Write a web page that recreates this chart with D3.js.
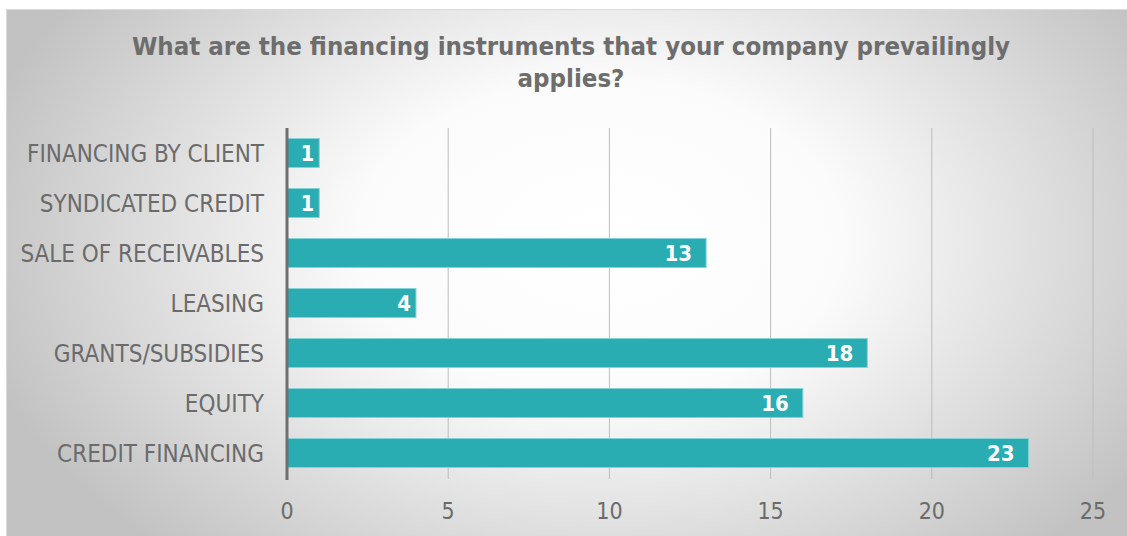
<!DOCTYPE html>
<html>
<head>
<meta charset="utf-8">
<script src="https://cdn.jsdelivr.net/npm/d3@7"></script>
<style>
  html, body { margin: 0; padding: 0; background: #ffffff; }
  svg { display: block; }
</style>
</head>
<body>
<svg id="chart" width="1127" height="536"></svg>
<script>
// Survey answers: financing instruments used
const categories = [
  "FINANCING BY CLIENT",
  "SYNDICATED CREDIT",
  "SALE OF RECEIVABLES",
  "LEASING",
  "GRANTS/SUBSIDIES",
  "EQUITY",
  "CREDIT FINANCING"
];
const counts = [1, 1, 13, 4, 18, 16, 23];
const xTicks = [0, 5, 10, 15, 20, 25];
const titleLines = [
  "What are the financing instruments that your company prevailingly",
  "applies?"
];

const svg = d3.select("#chart");
const W = 1127, H = 536;
const labelFont = "'DejaVu Sans Condensed', 'DejaVu Sans', sans-serif";

// Chart-area background: white glow fading to grey at the edges
const defs = svg.append("defs");
const grad = defs.append("radialGradient")
  .attr("id", "bg")
  .attr("gradientUnits", "userSpaceOnUse")
  .attr("cx", 600).attr("cy", 240).attr("r", 640)
  .attr("gradientTransform", "translate(600,240) scale(1,0.66) translate(-600,-240)");
grad.append("stop").attr("offset", "0").attr("stop-color", "#ffffff");
grad.append("stop").attr("offset", "0.38").attr("stop-color", "#fbfbfb");
grad.append("stop").attr("offset", "1").attr("stop-color", "#c2c2c2");

svg.append("rect")
  .attr("x", 6.5).attr("y", 9.5)
  .attr("width", W - 6).attr("height", H - 9)
  .attr("fill", "url(#bg)")
  .attr("stroke", "#dadada");

const x = d3.scaleLinear().domain([0, 25]).range([287, 1093]);
const y = d3.scaleBand().domain(categories).range([128, 478]).paddingInner(0.42).paddingOuter(0.21);

// Vertical gridlines
svg.append("g")
  .selectAll("line")
  .data(xTicks.filter(t => t > 0))
  .join("line")
  .attr("x1", d => x(d)).attr("x2", d => x(d))
  .attr("y1", 128).attr("y2", 479)
  .attr("stroke", "#bdbdbd").attr("stroke-width", 1);

// Bars
svg.append("g")
  .selectAll("rect")
  .data(categories)
  .join("rect")
  .attr("x", x(0))
  .attr("y", d => y(d))
  .attr("width", (d, i) => x(counts[i]) - x(0))
  .attr("height", y.bandwidth())
  .attr("fill", "#29adb3")
  .attr("stroke", "#86d3d6")
  .attr("stroke-width", 1);

// Value labels inside bar ends
svg.append("g")
  .selectAll("text")
  .data(categories)
  .join("text")
  .attr("x", (d, i) => x(counts[i]) - (counts[i] < 10 ? 5 : 14))
  .attr("y", d => y(d) + y.bandwidth() / 2)
  .attr("dy", "0.37em")
  .attr("text-anchor", "end")
  .attr("font-family", labelFont)
  .attr("font-weight", "bold")
  .attr("font-size", 22)
  .attr("fill", "#ffffff")
  .text((d, i) => counts[i]);

// Category axis line
svg.append("line")
  .attr("x1", x(0)).attr("x2", x(0))
  .attr("y1", 128).attr("y2", 480)
  .attr("stroke", "#6f6f6f").attr("stroke-width", 3);

// Category labels
svg.append("g")
  .selectAll("text")
  .data(categories)
  .join("text")
  .attr("x", 264)
  .attr("y", d => y(d) + y.bandwidth() / 2)
  .attr("dy", "0.37em")
  .attr("text-anchor", "end")
  .attr("font-family", labelFont)
  .attr("font-size", 24)
  .attr("fill", "#6b6b6b")
  .text(d => d);

// Value axis labels
svg.append("g")
  .selectAll("text")
  .data(xTicks)
  .join("text")
  .attr("x", d => x(d))
  .attr("y", 510)
  .attr("dy", "0.37em")
  .attr("text-anchor", "middle")
  .attr("font-family", labelFont)
  .attr("font-size", 23)
  .attr("fill", "#6b6b6b")
  .text(d => d);

// Title
svg.append("g")
  .selectAll("text")
  .data(titleLines)
  .join("text")
  .attr("x", 571)
  .attr("y", (d, i) => 55 + i * 32)
  .attr("text-anchor", "middle")
  .attr("font-family", labelFont)
  .attr("font-weight", "bold")
  .attr("font-size", 25.6)
  .attr("fill", "#6d6d6d")
  .text(d => d);
</script>
</body>
</html>
